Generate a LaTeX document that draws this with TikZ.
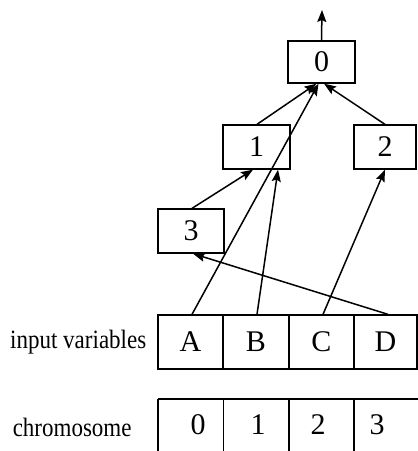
\documentclass[tikz,border=0pt]{standalone}
\usepackage{fontspec}
\setmainfont{Liberation Serif}
\usetikzlibrary{arrows.meta,calc}
\begin{document}
\begin{tikzpicture}[x=1pt,y=-1pt,
  line width=1.5pt,
  gene/.style={draw, line width=1.3pt, inner sep=0pt, font=\fontsize{30}{32}\selectfont},
  cell/.style={draw, line width=1.3pt, inner sep=0pt, minimum height=54pt, font=\fontsize{30}{32}\selectfont},
  tag/.style={inner sep=0pt, font=\fontsize{23}{25}\selectfont},
  link/.style={-{Stealth[length=12pt,width=9pt,inset=2pt]}}]
\useasboundingbox (0,0) rectangle (418,451);
\begin{scope}
\clip (0,0) rectangle (418,451);

% tree of genes
\node[gene, minimum width=67pt, minimum height=42pt] (n0) at (321.5,62) {0};
\node[gene, minimum width=67pt, minimum height=44pt] (n1) at (256.5,147) {1};
\node[gene, minimum width=62pt, minimum height=44pt] (n2) at (385,147) {2};
\node[gene, minimum width=66pt, minimum height=44pt] (n3) at (191,231) {3};

% input variables row
\node[cell, minimum width=65pt] (vA) at (190.5,342) {A};
\node[cell, minimum width=66pt] (vB) at (256,342) {B};
\node[cell, minimum width=65pt] (vC) at (321.5,342) {C};
\node[cell, minimum width=63pt] (vD) at (385.5,342) {D};
\node[tag, anchor=east] (lin) at (147,342) {\scalebox{1}[1.15]{input variables}};

% chromosome row (open at the bottom)
\draw[line width=1.3pt] (158,399) -- (420,399);
\foreach \xx in {158,223.5,289,354} \draw[line width=1.3pt] (\xx,399) -- (\xx,455);
\node[tag] (c0) at (198,425) {\fontsize{30}{32}\selectfont 0};
\node[tag] (c1) at (258,425) {\fontsize{30}{32}\selectfont 1};
\node[tag] (c2) at (318,425) {\fontsize{30}{32}\selectfont 2};
\node[tag] (c3) at (377,425) {\fontsize{30}{32}\selectfont 3};
\node[tag, anchor=west] (lch) at (12,427) {\scalebox{1}[1.15]{chromosome}};

% connectors
\coordinate (out) at (322,10);
\draw[link] (n0.north) -- (out);
\draw[link] ([xshift=0.5pt]n1.north) -- ([xshift=-5pt]n0.south);
\draw[link] (n2.north) -- ([xshift=2.5pt]n0.south);
\draw[link] ([xshift=1.5pt]vA.north) -- ([xshift=-3pt]n0.south);
\draw[link] ([xshift=1pt]n3.north) -- ([xshift=-3.5pt]n1.south);
\draw[link] ([xshift=1pt]vB.north) -- ([xshift=21.5pt]n1.south);
\draw[link] ([xshift=1.5pt]vC.north) -- (n2.south);
\draw[link] ([xshift=2.5pt]vD.north) -- ([xshift=2pt]n3.south);
\end{scope}
\end{tikzpicture}
\end{document}
